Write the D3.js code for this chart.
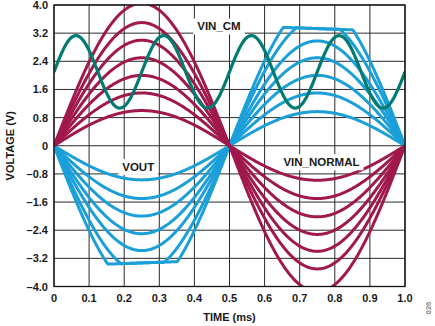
<!DOCTYPE html>
<html>
<head>
<meta charset="utf-8">
<script src="https://cdn.jsdelivr.net/npm/d3@7"></script>
<style>
  html, body { margin: 0; padding: 0; background: #fff; }
  svg { display: block; }
  text { font-family: "Liberation Sans", Arial, sans-serif; font-weight: bold; fill: #1a1a1a; }
</style>
</head>
<body>
<svg id="chart" width="435" height="326"></svg>
<script>
// ---- data ----
const timeTicks = [0, 0.1, 0.2, 0.3, 0.4, 0.5, 0.6, 0.7, 0.8, 0.9, 1.0];
const timeTickLabels = ["0", "0.1", "0.2", "0.3", "0.4", "0.5", "0.6", "0.7", "0.8", "0.9", "1.0"];
const voltTicks = [4.0, 3.2, 2.4, 1.6, 0.8, 0, -0.8, -1.6, -2.4, -3.2, -4.0];
const voltTickLabels = ["4.0", "3.2", "2.4", "1.6", "0.8", "0", "–0.8", "–1.6", "–2.4", "–3.2", "–4.0"];

// VIN_NORMAL peak amplitudes (V): positive half-cycle (0–0.5 ms), negative half-cycle (0.5–1 ms)
const vinNormalPosAmp = [1.0, 1.5, 2.0, 2.5, 3.0, 3.5, 4.05];
const vinNormalNegAmp = [0.98, 1.5, 2.02, 2.52, 3.0, 3.5, 4.15];
// VOUT peak amplitudes (V) (inverted), and output saturation at start / end of a half-cycle
const voutAmp = [0.97, 1.5, 2.0, 2.5, 2.98, 3.6, 4.1];
const voutSatStart = 3.42;
const voutSatEnd = 3.24;
// VIN_CM: offset, amplitude (V), period (ms)
const vinCmOffset = 2.1;
const vinCmAmp = 1.03;
const vinCmPeriod = 0.25;
// signal period of VIN_NORMAL (ms)
const signalPeriod = 1.0;

const labels = [
  { text: "VIN_CM", t: 0.47, v: 3.39 },
  { text: "VOUT", t: 0.24, v: -0.6 },
  { text: "VIN_NORMAL", t: 0.762, v: -0.47 }
];

// ---- layout ----
const W = 435, H = 326;
const margin = { left: 54, right: 30, top: 5, bottom: 39.5 };
const x = d3.scaleLinear().domain([0, 1]).range([margin.left, W - margin.right]);
const y = d3.scaleLinear().domain([-4, 4]).range([H - margin.bottom, margin.top]);

const svg = d3.select("#chart");

svg.append("defs").append("clipPath").attr("id", "plotclip")
  .append("rect")
  .attr("x", x(0)).attr("y", y(4))
  .attr("width", x(1) - x(0)).attr("height", y(-4) - y(4));

// grid
const grid = svg.append("g");
grid.selectAll("line.vg").data(timeTicks).join("line")
  .attr("x1", d => x(d)).attr("x2", d => x(d))
  .attr("y1", y(4)).attr("y2", y(-4))
  .attr("stroke", "#2a2a2a").attr("stroke-width", 1);
grid.selectAll("line.hg").data(voltTicks).join("line")
  .attr("x1", x(0)).attr("x2", x(1))
  .attr("y1", d => y(d)).attr("y2", d => y(d))
  .attr("stroke", "#2a2a2a").attr("stroke-width", 1);

// sample times
const N = 500;
const ts = d3.range(N + 1).map(i => i / N);

const line = d3.line().x(d => x(d[0])).y(d => y(d[1])).curve(d3.curveLinear);
const plot = svg.append("g").attr("clip-path", "url(#plotclip)");

// VOUT (blue)
voutAmp.forEach(A => {
  const pts = ts.map(t => {
    const s = Math.sin(2 * Math.PI * t / signalPeriod);
    const phase = (t % (signalPeriod / 2)) / (signalPeriod / 2);
    const sat = voutSatStart + (voutSatEnd - voutSatStart) * phase;
    const mag = Math.min(A * Math.abs(s), sat);
    return [t, -Math.sign(s) * mag];
  });
  plot.append("path").attr("d", line(pts))
    .attr("fill", "none").attr("stroke", "#1b9fd8").attr("stroke-width", 3)
    .attr("stroke-linejoin", "round");
});

// VIN_NORMAL (maroon)
vinNormalPosAmp.forEach((Ap, i) => {
  const An = vinNormalNegAmp[i];
  const pts = ts.map(t => {
    const s = Math.sin(2 * Math.PI * t / signalPeriod);
    return [t, (s >= 0 ? Ap : An) * s];
  });
  plot.append("path").attr("d", line(pts))
    .attr("fill", "none").attr("stroke", "#a0184c").attr("stroke-width", 3)
    .attr("stroke-linejoin", "round");
});

// VIN_CM (teal)
{
  const pts = ts.map(t => [t, vinCmOffset + vinCmAmp * Math.sin(2 * Math.PI * t / vinCmPeriod)]);
  plot.append("path").attr("d", line(pts))
    .attr("fill", "none").attr("stroke", "#007b71").attr("stroke-width", 3.2)
    .attr("stroke-linejoin", "round");
}

// frame
svg.append("rect")
  .attr("x", x(0)).attr("y", y(4))
  .attr("width", x(1) - x(0)).attr("height", y(-4) - y(4))
  .attr("fill", "none").attr("stroke", "#111").attr("stroke-width", 1.3);

// labels with white boxes
labels.forEach(l => {
  const g = svg.append("g");
  const txt = g.append("text")
    .attr("x", x(l.t)).attr("y", y(l.v))
    .attr("text-anchor", "middle").attr("dominant-baseline", "central")
    .attr("font-size", 11.5)
    .text(l.text);
  const bb = txt.node().getBBox();
  g.insert("rect", "text")
    .attr("x", bb.x - 4).attr("y", bb.y - 2)
    .attr("width", bb.width + 8).attr("height", bb.height + 4)
    .attr("fill", "#fff");
});

// tick labels
svg.append("g").selectAll("text").data(voltTicks).join("text")
  .attr("x", x(0) - 6).attr("y", d => y(d))
  .attr("text-anchor", "end").attr("dominant-baseline", "central")
  .attr("font-size", 11)
  .text((d, i) => voltTickLabels[i]);

svg.append("g").selectAll("text").data(timeTicks).join("text")
  .attr("x", d => x(d)).attr("y", y(-4) + 11)
  .attr("text-anchor", "middle").attr("dominant-baseline", "central")
  .attr("font-size", 11)
  .text((d, i) => timeTickLabels[i]);

// axis titles
svg.append("text")
  .attr("x", (x(0) + x(1)) / 2).attr("y", 317)
  .attr("text-anchor", "middle").attr("dominant-baseline", "central")
  .attr("font-size", 11)
  .text("TIME (ms)");

svg.append("text")
  .attr("transform", `translate(10,${(y(4) + y(-4)) / 2}) rotate(-90)`)
  .attr("text-anchor", "middle").attr("dominant-baseline", "central")
  .attr("font-size", 11)
  .text("VOLTAGE (V)");

svg.append("text")
  .attr("transform", "translate(428,308) rotate(-90)")
  .attr("text-anchor", "middle").attr("dominant-baseline", "central")
  .attr("font-size", 7.5).attr("font-weight", "normal")
  .style("fill", "#888")
  .text("026");
</script>
</body>
</html>
